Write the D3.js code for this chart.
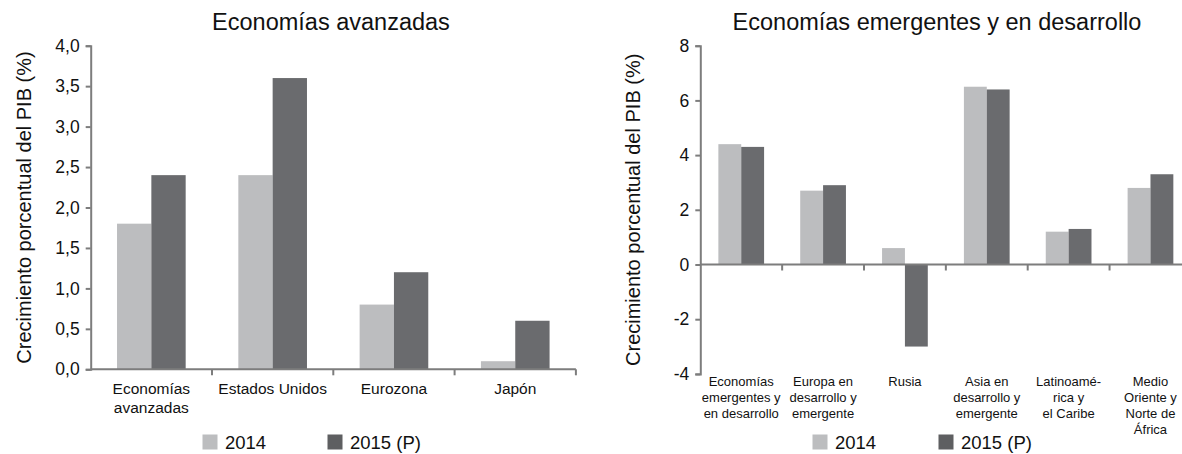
<!DOCTYPE html>
<html>
<head>
<meta charset="utf-8">
<script src="https://cdn.jsdelivr.net/npm/d3@7"></script>
<style>
  html, body { margin: 0; padding: 0; background: #fff; }
  svg { display: block; font-family: "Liberation Sans", Arial, sans-serif; }
</style>
</head>
<body>
<svg id="chart" width="1182" height="454"></svg>
<script>
// ---------- data ----------
const seriesNames = ["2014", "2015 (P)"];
const seriesColors = ["#bcbdbf", "#6a6b6e"];

const leftTitle = "Economías avanzadas";
const leftCategories = [["Economías", "avanzadas"], ["Estados Unidos"], ["Eurozona"], ["Japón"]];
const left2014 = [1.8, 2.4, 0.8, 0.1];
const left2015 = [2.4, 3.6, 1.2, 0.6];
const leftTicks = [0, 0.5, 1, 1.5, 2, 2.5, 3, 3.5, 4];

const rightTitle = "Economías emergentes y en desarrollo";
const rightCategories = [
  ["Economías", "emergentes y", "en desarrollo"],
  ["Europa en", "desarrollo y", "emergente"],
  ["Rusia"],
  ["Asia en", "desarrollo y", "emergente"],
  ["Latinoamé-", "rica y", "el Caribe"],
  ["Medio", "Oriente y", "Norte de", "África"]
];
const right2014 = [4.4, 2.7, 0.6, 6.5, 1.2, 2.8];
const right2015 = [4.3, 2.9, -3.0, 6.4, 1.3, 3.3];
const rightTicks = [-4, -2, 0, 2, 4, 6, 8];

const yLabel = "Crecimiento porcentual del PIB (%)";

// ---------- drawing ----------
const svg = d3.select("#chart");
const axisColor = "#7d7d7d";
const commaFmt = v => d3.format(".1f")(v).replace(".", ",");
const intFmt = v => String(v);

function drawPanel(cfg) {
  const g = svg.append("g");
  const x = d3.scaleBand().domain(d3.range(cfg.categories.length)).range([cfg.x0, cfg.x1]).paddingInner(0).paddingOuter(0);
  const xs = d3.scaleBand().domain(seriesNames).range([0, x.bandwidth()]).paddingInner(0).paddingOuter(cfg.outer);
  const y = d3.scaleLinear().domain(cfg.domain).range([cfg.yBottom, cfg.yTop]);

  // title
  g.append("text").attr("x", cfg.titleX).attr("y", 30).attr("text-anchor", "middle")
    .attr("font-size", "23.5px").attr("fill", "#111").text(cfg.title);

  // y label
  const ymid = (cfg.yBottom + cfg.yTop) / 2;
  g.append("text").attr("transform", `translate(${cfg.yLabelX},${ymid}) rotate(-90)`)
    .attr("text-anchor", "middle").attr("dominant-baseline", "central")
    .attr("font-size", "20px").attr("fill", "#111").text(yLabel);

  // bars
  const rows = cfg.categories.map((c, i) => ({ i, vals: [cfg.s1[i], cfg.s2[i]] }));
  const grp = g.selectAll("g.cat").data(rows).join("g").attr("transform", d => `translate(${x(d.i)},0)`);
  grp.selectAll("rect").data(d => d.vals.map((v, k) => ({ v, k })))
    .join("rect")
    .attr("x", d => xs(seriesNames[d.k]))
    .attr("width", xs.bandwidth())
    .attr("y", d => y(Math.max(0, d.v)))
    .attr("height", d => Math.abs(y(d.v) - y(0)))
    .attr("fill", d => seriesColors[d.k]);

  // y axis
  const yAxis = d3.axisLeft(y).tickValues(cfg.ticks).tickSize(5).tickPadding(cfg.tickPad)
    .tickFormat(cfg.fmt);
  const ya = g.append("g").attr("transform", `translate(${cfg.x0},0)`).call(yAxis);
  ya.attr("font-family", null);
  ya.select(".domain").attr("stroke", axisColor).attr("stroke-width", 2);
  ya.selectAll(".tick line").attr("stroke", axisColor).attr("stroke-width", 2);
  ya.selectAll(".tick text").attr("font-size", "17.5px").attr("fill", "#111");

  // x axis line at zero with boundary ticks
  const y0 = y(0);
  g.append("line").attr("x1", cfg.x0).attr("x2", cfg.x1).attr("y1", y0).attr("y2", y0)
    .attr("stroke", axisColor).attr("stroke-width", 2);
  const bounds = d3.range(1, cfg.categories.length + 1).map(i => cfg.x0 + i * x.step());
  g.selectAll("line.xt").data(bounds).join("line")
    .attr("x1", d => d).attr("x2", d => d).attr("y1", y0).attr("y2", y0 + 6)
    .attr("stroke", axisColor).attr("stroke-width", 2);

  // category labels
  const lab = g.selectAll("text.cat").data(cfg.categories).join("text")
    .attr("text-anchor", "middle").attr("font-size", cfg.labSize).attr("fill", "#111");
  lab.selectAll("tspan").data((d, i) => d.map(t => ({ t, i }))).join("tspan")
    .attr("x", d => x(d.i) + x.bandwidth() / 2)
    .attr("y", (d, j) => cfg.labY + j * cfg.labLH)
    .text(d => d.t);

  // legend
  cfg.legend.forEach((lx, k) => {
    g.append("rect").attr("x", lx).attr("y", 434.5).attr("width", 15).attr("height", 15)
      .attr("fill", k === 0 ? "#bcbdbf" : "#5e5f61");
    g.append("text").attr("x", lx + 22.5).attr("y", 448.5).attr("font-size", "18.5px")
      .attr("fill", "#111").text(seriesNames[k]);
  });
}

drawPanel({
  title: leftTitle, titleX: 331, categories: leftCategories, s1: left2014, s2: left2015,
  domain: [0, 4], ticks: leftTicks, fmt: commaFmt,
  x0: 90.7, x1: 575.9, yTop: 45.7, yBottom: 369.3, outer: 0.767, tickPad: 6,
  yLabelX: 24, labSize: "15.5px", labY: 393.5, labLH: 19.5,
  legend: [202.5, 327.5]
});

drawPanel({
  title: rightTitle, titleX: 937, categories: rightCategories, s1: right2014, s2: right2015,
  domain: [-4, 8], ticks: rightTicks, fmt: intFmt,
  x0: 700.3, x1: 700.3 + 6 * 81.85, yTop: 45.7, yBottom: 373.9, outer: 0.79, tickPad: 6,
  yLabelX: 633, labSize: "13px", labY: 385.5, labLH: 16,
  legend: [812.5, 938.5]
});
</script>
</body>
</html>
